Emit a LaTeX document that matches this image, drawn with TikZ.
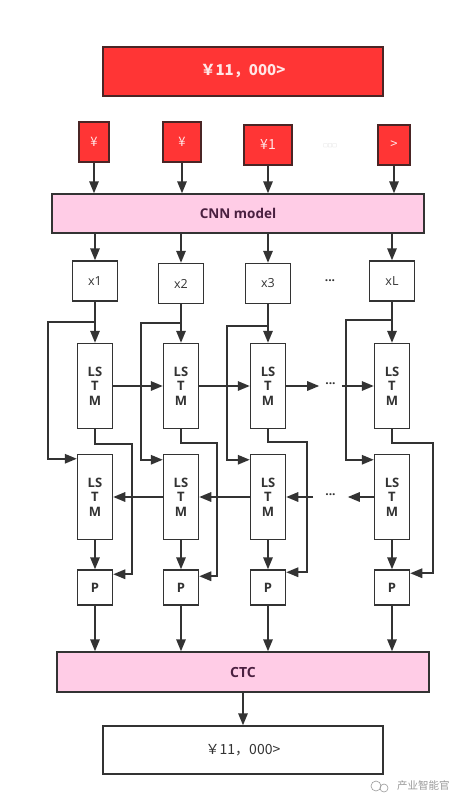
\documentclass[tikz,border=0pt]{standalone}
\usepackage{fontspec}
\setmainfont{Open Sans}
\newfontfamily\cjk{Noto Sans CJK SC}
\usetikzlibrary{arrows.meta,calc}
\definecolor{dk}{HTML}{333333}
\definecolor{myred}{HTML}{FF3535}
\definecolor{redline}{HTML}{4A2525}
\definecolor{pinkfill}{HTML}{FFCCE6}
\definecolor{plum}{HTML}{4A2040}
\definecolor{redtext}{HTML}{FFE6E6}
\definecolor{wm}{HTML}{9A9A9A}
\begin{document}
\begin{tikzpicture}[x=1pt,y=-1pt,
  every node/.style={inner sep=0pt},
  redbox/.style={draw=redline, fill=myred, line width=1.5pt, text=redtext, font=\cjk\fontsize{13}{15}\selectfont},
  pinkbox/.style={draw=dk, fill=pinkfill, line width=1.5pt, text=plum, font=\bfseries\fontsize{13.5}{16}\selectfont, minimum width=372pt, minimum height=39pt},
  xbox/.style={draw=dk, fill=white, line width=1.5pt, text=dk, font=\fontsize{12.5}{14}\selectfont, minimum width=45pt, minimum height=40pt},
  lstm/.style={draw=dk, fill=white, line width=1.5pt, text=dk, align=center, font=\bfseries\fontsize{13}{14.5}\selectfont, minimum width=35pt, minimum height=85pt},
  pbox/.style={draw=dk, fill=white, line width=1.5pt, text=dk, font=\bfseries\fontsize{13}{15}\selectfont, minimum width=35pt, minimum height=35pt},
  conn/.style={draw=dk, line width=1.6pt, -{Triangle[length=12pt,width=9.5pt]}},
  dots/.style={text=dk, inner xsep=6pt, font=\bfseries\fontsize{12}{12}\selectfont},
]
\fill[white] (0,0) rectangle (465,806);
\useasboundingbox (0,0) rectangle (465,806);

% top
\node[redbox, minimum width=280pt, minimum height=49pt, font=\cjk\bfseries\fontsize{15}{17}\selectfont] (top) at (243,71.5) {￥11，000>};
\node[redbox, minimum width=30pt, minimum height=40pt] (r1) at (94,142) {¥};
\node[redbox, minimum width=38pt, minimum height=40pt] (r2) at (182,142) {¥};
\node[redbox, minimum width=48pt, minimum height=40pt, font=\cjk\fontsize{14}{16}\selectfont] (r3) at (268,145) {¥1};
\node[text=wm!70, font=\cjk\fontsize{4.5}{5}\selectfont] (rdots) at (330,146) {□□□};
\node[redbox, minimum width=32pt, minimum height=40pt] (r4) at (394,145) {>};

\node[pinkbox] (cnn) at (238,213.5) {CNN model};

\foreach \r in {r1,r2,r3,r4}{\draw[conn] (\r.south) -- (\r.south |- cnn.north);}

% x boxes
\node[xbox] (x1) at (95,281) {x1};
\node[xbox] (x2) at (181,283.5) {x2};
\node[xbox] (x3) at (268,283.5) {x3};
\node[dots] (xdots) at (330,281) {...};
\node[xbox] (xL) at (392,281) {xL};

\foreach \x in {x1,x2,x3,xL}{\draw[conn] (\x.south |- cnn.south) -- (\x.north);}

% LSTM upper
\node[lstm] (U1) at (95,386) {LS\\T\\M};
\node[lstm] (U2) at (181,386) {LS\\T\\M};
\node[lstm] (U3) at (268,386) {LS\\T\\M};
\node[dots] (udots) at (330.5,384) {...};
\node[lstm] (UL) at (392,386) {LS\\T\\M};

% LSTM lower
\node[lstm] (D1) at (95,497) {LS\\T\\M};
\node[lstm] (D2) at (181,497) {LS\\T\\M};
\node[lstm] (D3) at (268,497) {LS\\T\\M};
\node[dots, inner xsep=12pt] (ddots) at (330.5,495) {...};
\node[lstm] (DL) at (392,497) {LS\\T\\M};

% P boxes
\node[pbox] (P1) at (95,587.5) {P};
\node[pbox] (P2) at (181,587.5) {P};
\node[pbox] (P3) at (268,587.5) {P};
\node[pbox] (PL) at (392,587.5) {P};

\node[pinkbox, minimum height=40pt, font=\bfseries\fontsize{14}{16}\selectfont] (ctc) at (243,672) {CTC};
\node[draw=dk, fill=white, line width=1.5pt, text=dk, minimum width=280pt, minimum height=48pt, font=\cjk\fontsize{14}{16}\selectfont] (out) at (243,750) {￥11，000>};

% x -> upper LSTM
\foreach \i in {1,2,3,L}{\draw[conn] (x\i.south) -- (U\i.north);}

% branch points
\coordinate (b1) at (95,322);
\coordinate (b2) at (181,323);
\coordinate (b3) at (268,326);
\coordinate (bL) at (392,320);
\draw[conn] (b1) -- (48,322) |- ([yshift=-5pt]D1.north west);
\draw[conn] (b2) -- (141,323) |- ([yshift=-6pt]D2.north west);
\draw[conn] (b3) -- (227,326) |- ([yshift=-6pt]D3.north west);
\draw[conn] (bL) -- (346,320) |- ([yshift=-6pt]DL.north west);

% forward direction
\draw[conn] (U1.east) -- (U2.west);
\draw[conn] (U2.east) -- (U3.west);
\draw[conn] (U3.east) -- (U3.east -| udots.west);
\draw[conn] (UL.west -| udots.east) -- (UL.west);

% backward direction
\draw[conn] (DL.west) -- (DL.west -| ddots.east);
\draw[conn] (D3.east -| ddots.west) -- (D3.east);
\draw[conn] (D3.west) -- (D2.east);
\draw[conn] (D2.west) -- (D1.east);

% upper LSTM -> P
\draw[conn] (U1.south) |- (132,444) |- ([yshift=-5pt]P1.north east);
\draw[conn] (U2.south) |- (217,443) |- ([yshift=-7pt]P2.north east);
\draw[conn] (U3.south) |- (307,442) |- ([yshift=-3pt]P3.north east);
\draw[conn] (UL.south) |- (433,443) |- ([yshift=-4pt]PL.north east);

% lower LSTM -> P, P -> CTC
\foreach \i in {1,2,3,L}{
  \draw[conn] (D\i.south) -- (P\i.north);
  \draw[conn] (P\i.south) -- (P\i.south |- ctc.north);
}
\draw[conn] (ctc.south) -- (out.north);

% watermark
\node[text=wm, font=\cjk\fontsize{10.5}{12}\selectfont, anchor=west] (wmtext) at (397,786) {产业智能官};
\draw[wm, line width=0.6pt] (376,786) circle (5pt);
\draw[wm, line width=0.6pt] (384,788) circle (4pt);
\end{tikzpicture}
\end{document}
